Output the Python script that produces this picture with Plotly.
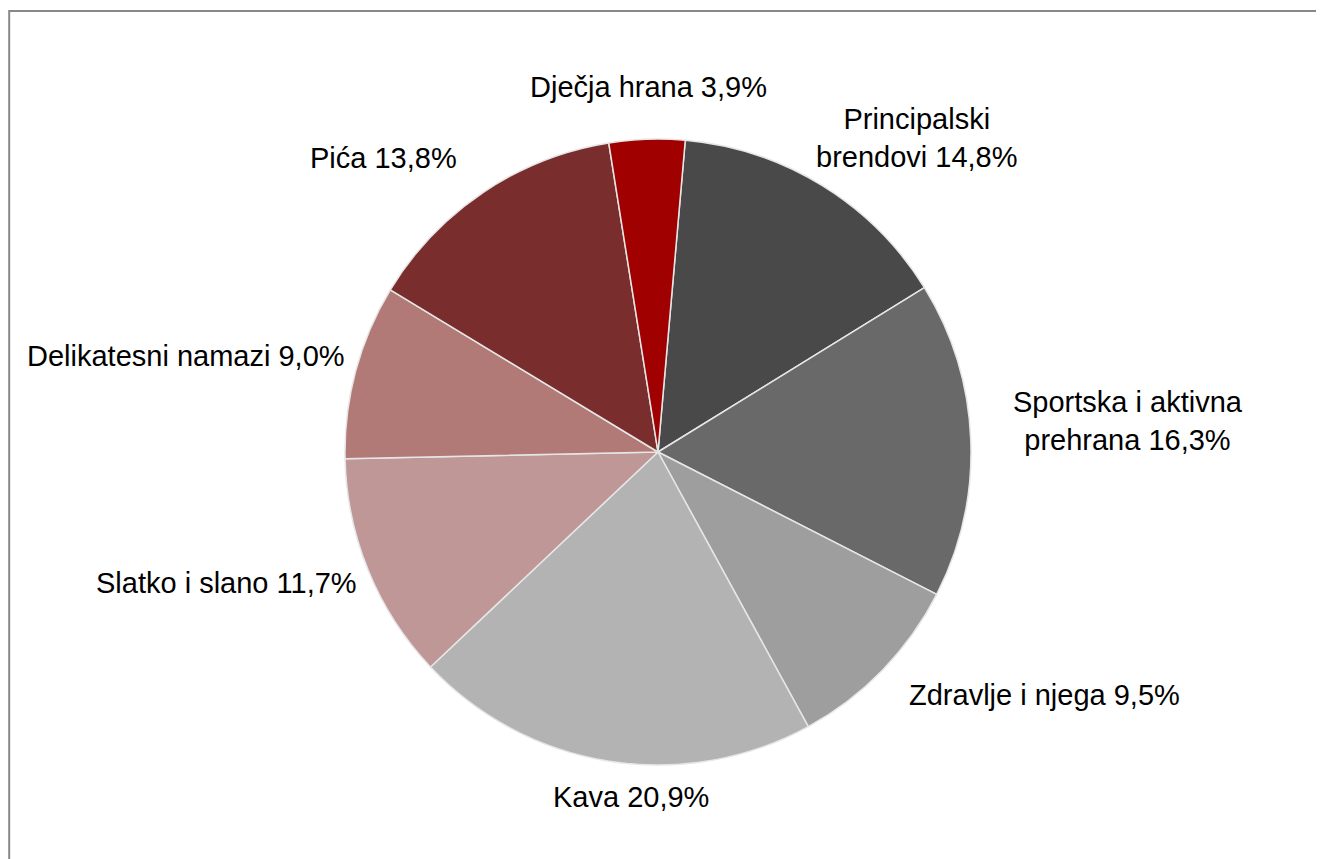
import plotly.graph_objects as go

labels = ["Principalski<br>brendovi", "Sportska i aktivna<br>prehrana", "Zdravlje i njega",
          "Kava", "Slatko i slano", "Delikatesni namazi", "Pića", "Dječja hrana"]
values = [14.8, 16.3, 9.5, 20.9, 11.7, 9.0, 13.8, 3.9]
colors = ["#494949", "#696969", "#9e9e9e", "#b3b3b3", "#bf9797", "#b27a77", "#7a2d2d", "#a00000"]

# label centres in page pixels (layout only)
label_px = [(917, 138), (1128, 421), (1044, 695), (631, 797),
            (226, 583), (186, 356), (383, 158), (648, 87)]

OFF = 8  # page body margin
W, H = 1324 - OFF, 859 - OFF
cx, cy, r = 658 - OFF, 452 - OFF, 313

fig = go.Figure(go.Pie(
    labels=labels,
    values=values,
    sort=False,
    direction="clockwise",
    rotation=5,
    marker=dict(colors=colors, line=dict(color="#e6e6e6", width=1.5)),
    textinfo="none",
    hoverinfo="label+value",
    showlegend=False,
    domain=dict(x=[(cx - r) / W, (cx + r) / W], y=[1 - (cy + r) / H, 1 - (cy - r) / H]),
))

annotations = []
for lab, val, (px, py) in zip(labels, values, label_px):
    txt = f"{lab} {val:.1f}%".replace(".", ",")
    annotations.append(dict(
        text=txt, xref="paper", yref="paper",
        x=(px - OFF) / W, y=1 - (py - OFF) / H,
        xanchor="center", yanchor="middle", showarrow=False, align="center",
        font=dict(family="Liberation Sans, Arial, sans-serif", size=29, color="#000000"),
    ))

fig.update_layout(
    width=W, height=H,
    margin=dict(l=0, r=0, t=0, b=0),
    paper_bgcolor="white",
    annotations=annotations,
    shapes=[dict(type="rect", xref="paper", yref="paper",
                 x0=1.2 / W, x1=1.05, y0=-0.05, y1=1 - 3 / H,
                 line=dict(color="#888888", width=2), fillcolor="rgba(0,0,0,0)")],
)

fig.write_html("out.html")
